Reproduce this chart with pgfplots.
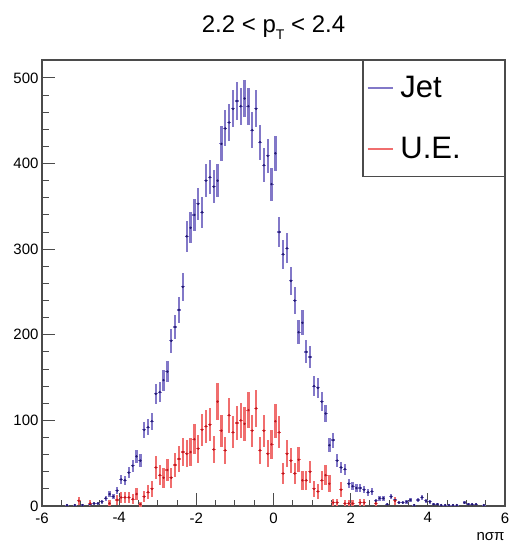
\documentclass[border=0pt]{standalone}
\usepackage{fontspec}
\setmainfont{Liberation Sans}
\usepackage{pgfplots}
\usepackage{pgfplotstable}
\pgfplotsset{compat=1.18}

\definecolor{jetbar}{RGB}{130,120,200}
\definecolor{jetmark}{RGB}{35,25,115}
\definecolor{uebar}{RGB}{240,110,110}
\definecolor{uemark}{RGB}{190,20,30}
\definecolor{framec}{RGB}{75,75,75}

% Jet: bin centre, content, error
\pgfplotstableread{
x y ey
-5.35 1 1
-5.15 1 1
-4.95 1 1
-4.75 2 1.41
-4.65 3 1.73
-4.55 3 1.73
-4.45 5 2.24
-4.35 9 3
-4.25 14 3.74
-4.15 11 3.32
-4.05 18 4.24
-3.95 31 5.57
-3.85 30 5.48
-3.75 39 6.24
-3.65 47 6.86
-3.55 58 7.62
-3.45 53 7.28
-3.35 89 9.43
-3.25 92 9.59
-3.15 99 9.95
-3.05 131 11.45
-2.95 133 11.53
-2.85 147 12.12
-2.75 157 12.53
-2.65 193 13.89
-2.55 209 14.46
-2.45 229 15.13
-2.35 256 16
-2.25 315 17.75
-2.15 325 18.03
-2.05 340 18.44
-1.95 353 18.79
-1.85 343 18.52
-1.75 380 19.49
-1.65 384 19.6
-1.55 373 19.31
-1.45 380 19.49
-1.35 423 20.57
-1.25 441 21
-1.15 448 21.17
-1.05 464 21.54
-0.95 473 21.75
-0.85 467 21.61
-0.75 476 21.82
-0.65 467 21.61
-0.55 439 20.95
-0.45 464 21.54
-0.35 425 20.62
-0.25 398 19.95
-0.15 409 20.22
-0.05 376 19.39
0.05 412 20.3
0.15 320 17.89
0.25 294 17.15
0.35 301 17.35
0.45 263 16.22
0.55 240 15.49
0.65 203 14.25
0.75 214 14.63
0.85 180 13.42
0.95 174 13.19
1.05 140 11.83
1.15 138 11.75
1.25 122 11.05
1.35 108 10.39
1.45 71 8.43
1.55 77 8.77
1.65 53 7.28
1.75 45 6.71
1.85 43 6.56
1.95 26 5.1
2.05 23 4.8
2.15 21 4.58
2.25 21 4.58
2.35 19 4.36
2.45 16 4
2.55 17 4.12
2.65 6 2.45
2.75 9 3
2.85 9 3
2.95 2 1.41
3.05 11 3.32
3.15 7 2.65
3.25 4 2
3.35 4 2
3.45 5 2.24
3.55 7 2.65
3.65 1 1
3.75 7 2.65
3.85 10 3.16
3.95 6 2.45
4.05 5 2.24
4.15 2 1.41
4.25 2 1.41
4.35 1 1
4.45 1 1
4.55 1 1
4.65 1 1
4.75 1 1
4.95 4 2
5.05 2 1.41
5.15 2 1.41
5.25 2 1.41
5.45 1 1
}\jet

% U.E.: bin centre, content, error
\pgfplotstableread{
x y ey
-5.05 6 4.9
-4.75 3 3.46
-4.25 3 3.46
-4.05 7 5.29
-3.95 10 6.32
-3.85 10 6.32
-3.75 10 6.32
-3.65 8 5.66
-3.55 14 7.48
-3.45 2 2.83
-3.35 11 6.63
-3.25 16 8
-3.15 20 8.94
-3.05 45 13.42
-2.95 36 12
-2.85 33 11.49
-2.75 42 12.96
-2.65 33 11.49
-2.55 48 13.86
-2.45 55 14.83
-2.35 63 15.87
-2.25 61 15.62
-2.15 63 15.87
-2.05 78 17.66
-1.95 67 16.37
-1.85 89 18.87
-1.75 93 19.29
-1.65 95 19.49
-1.55 66 16.25
-1.45 122 22.09
-1.35 88 18.76
-1.25 65 16.12
-1.15 106 20.59
-1.05 86 18.55
-0.95 97 19.7
-0.85 100 20
-0.75 96 19.6
-0.65 112 21.17
-0.55 88 18.76
-0.45 114 21.35
-0.35 65 16.12
-0.25 88 18.76
-0.15 61 15.62
-0.05 72 16.97
0.05 99 19.9
0.15 86 18.55
0.25 38 12.33
0.35 61 15.62
0.45 53 14.56
0.55 38 12.33
0.65 54 14.7
0.75 30 10.95
0.85 30 10.95
0.95 40 12.65
1.05 20 8.94
1.15 17 8.25
1.25 30 10.95
1.35 36 12
1.45 26 10.2
1.55 4 4
1.65 4 4
1.75 19 8.72
1.85 3 3.46
1.95 3 3.46
2.05 3 3.46
2.25 4 4
2.35 4 4
2.65 3 3.46
3.15 6 4.9
}\ue

\begin{document}
\begin{tikzpicture}
\path[use as bounding box] (-42pt,-39pt) rectangle (468pt,506pt);
\begin{axis}[
    at={(0,0)}, anchor=south west,
    scale only axis,
    width=463pt, height=446pt,
    xmin=-6, xmax=6,
    ymin=0, ymax=521,
    xtick={-6,-4,...,6},
    ytick={0,100,...,500},
    minor x tick num=3,
    minor y tick num=4,
    tick align=inside,
    tick pos=left,
    major tick length=13pt,
    minor tick length=6.5pt,
    axis line style={framec, line width=1.2pt},
    every tick/.style={framec, line width=1pt},
    tick label style={font=\fontsize{15}{15}\selectfont},
    xticklabel style={yshift=-3pt},
    /pgf/number format/assume math mode=true,
    xlabel={nσπ},
    xlabel style={at={(rel axis cs:1,0)}, anchor=base east, yshift=-34pt, xshift=3pt,
        font=\fontsize{15}{15}\selectfont},
    title={2.2 < p\raisebox{-0.55ex}{\fontsize{14}{14}\selectfont T} < 2.4},
    title style={at={(0.5,1)}, anchor=base, yshift=21pt, font=\fontsize{24}{24}\selectfont},
    legend image code/.code={\draw[#1] (0pt,0pt) -- (25pt,0pt);},
    legend style={at={(1,1)}, anchor=north east, draw=framec, line width=1.2pt,
        font=\fontsize{31}{31}\selectfont, inner xsep=4pt, inner ysep=14pt,
        row sep=34pt, column sep=5pt},
    legend cell align=left,
]

% Jet
\addplot[forget plot, draw=none, mark=none,
    error bars/.cd, y dir=both, y explicit, error mark=none,
    error bar style={line width=2.3pt, jetbar}]
    table[x=x, y=y, y error=ey] {\jet};
\addplot[forget plot, only marks, mark=*, mark size=1pt, jetmark,
    error bars/.cd, x dir=both, x fixed=0.05, error mark=none,
    error bar style={line width=1.2pt, jetbar}]
    table[x=x, y=y] {\jet};

% U.E.
\addplot[forget plot, draw=none, mark=none,
    error bars/.cd, y dir=both, y explicit, error mark=none,
    error bar style={line width=2.3pt, uebar}]
    table[x=x, y=y, y error=ey] {\ue};
\addplot[forget plot, only marks, mark=*, mark size=1pt, uemark,
    error bars/.cd, x dir=both, x fixed=0.05, error mark=none,
    error bar style={line width=1.2pt, uebar}]
    table[x=x, y=y] {\ue};

\addlegendimage{draw=jetbar, line width=1.5pt}
\addlegendentry{\makebox[98pt][l]{Jet}}
\addlegendimage{draw=uebar, line width=1.5pt}
\addlegendentry{\makebox[98pt][l]{U.E.}}

\end{axis}
\end{tikzpicture}
\end{document}
